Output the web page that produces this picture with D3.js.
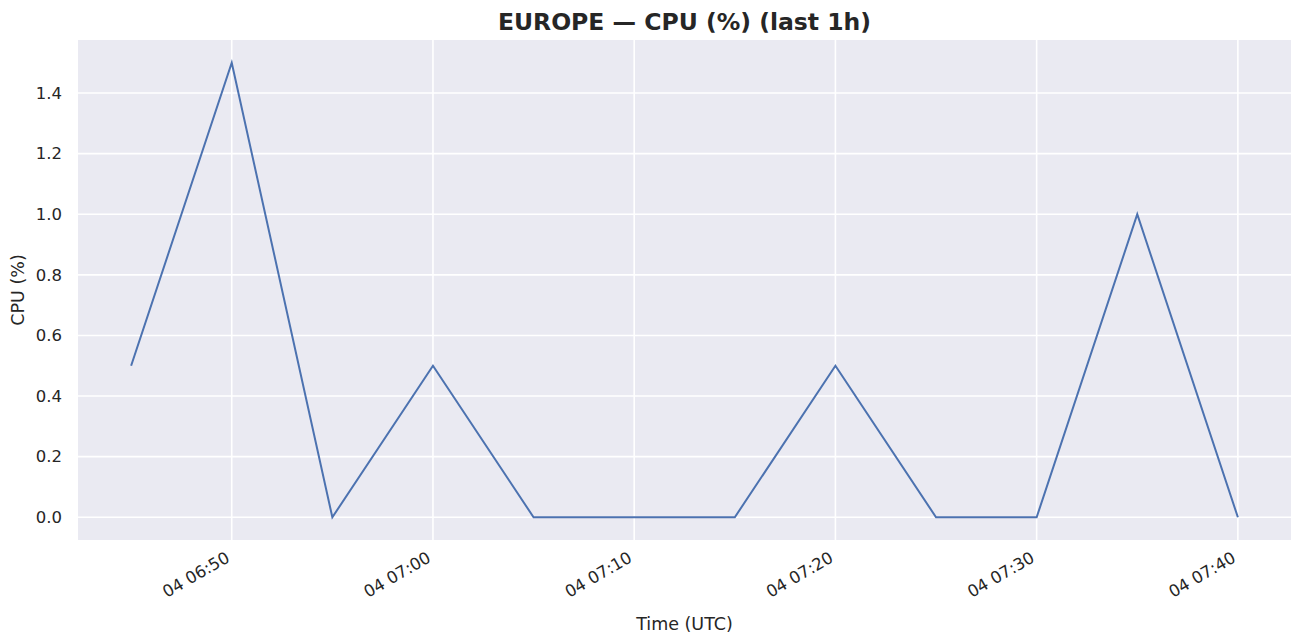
<!DOCTYPE html>
<html><head><meta charset="utf-8">
<script src="https://cdn.jsdelivr.net/npm/d3@7"></script>
<style>body{margin:0;background:#fff;font-family:"DejaVu Sans",sans-serif}</style>
</head><body><div id="chart"></div>
<script>
// data (UTC, 5 min steps)
const times = ["06:45","06:50","06:55","07:00","07:05","07:10","07:15","07:20","07:25","07:30","07:35","07:40"];
const cpu = [0.5, 1.5, 0, 0.5, 0, 0, 0, 0.5, 0, 0, 1.0, 0];
const yTicks = [0, 0.2, 0.4, 0.6, 0.8, 1.0, 1.2, 1.4];
const xTicks = ["06:50","07:00","07:10","07:20","07:30","07:40"];

const W = 1303, H = 644;
const m = {left: 78, right: 12, top: 40, bottom: 104};
const parse = t => new Date("2024-01-04T" + t + ":00Z");
const pts = times.map((t, i) => ({t: parse(t), v: cpu[i]}));

const svg = d3.select("#chart").append("svg").attr("width", W).attr("height", H);

const t0 = parse("06:45"), t1 = parse("07:40"), pad = (t1 - t0) * 0.048;
const x = d3.scaleUtc().domain([new Date(+t0 - pad), new Date(+t1 + pad)]).range([m.left, W - m.right]);
const y = d3.scaleLinear().domain([-0.075, 1.575]).range([H - m.bottom, m.top]);

svg.append("rect").attr("x", m.left).attr("y", m.top)
  .attr("width", W - m.left - m.right).attr("height", H - m.top - m.bottom).attr("fill", "#eaeaf2");

// grid
svg.append("g").selectAll("line").data(yTicks).enter().append("line")
  .attr("x1", m.left).attr("x2", W - m.right)
  .attr("y1", d => y(d)).attr("y2", d => y(d))
  .attr("stroke", "#fff").attr("stroke-width", 1.6);
svg.append("g").selectAll("line").data(xTicks).enter().append("line")
  .attr("x1", d => x(parse(d))).attr("x2", d => x(parse(d)))
  .attr("y1", m.top).attr("y2", H - m.bottom)
  .attr("stroke", "#fff").attr("stroke-width", 1.6);

// y labels
svg.append("g").selectAll("text").data(yTicks).enter().append("text")
  .attr("x", m.left - 16).attr("y", d => y(d)).attr("dy", "0.35em")
  .attr("text-anchor", "end").attr("font-size", 16.5).attr("fill", "#262626")
  .text(d => d.toFixed(1));

// x labels, rotated
const fmt = d3.utcFormat("%d %H:%M");
svg.append("g").selectAll("text").data(xTicks).enter().append("text")
  .attr("transform", d => `translate(${x(parse(d)) - 1},${H - m.bottom + 21}) rotate(-30)`)
  .attr("text-anchor", "end").attr("font-size", 16.5).attr("fill", "#262626")
  .text(d => fmt(parse(d)));

// line
svg.append("path").datum(pts)
  .attr("d", d3.line().x(d => x(d.t)).y(d => y(d.v)))
  .attr("fill", "none").attr("stroke", "#4c72b0").attr("stroke-width", 2);

// titles
svg.append("text").attr("x", (m.left + W - m.right) / 2).attr("y", 30)
  .attr("text-anchor", "middle").attr("font-size", 23.5).attr("font-weight", "bold").attr("fill", "#262626")
  .text("EUROPE — CPU (%) (last 1h)");
svg.append("text").attr("x", (m.left + W - m.right) / 2).attr("y", 630)
  .attr("text-anchor", "middle").attr("font-size", 17.5).attr("fill", "#262626")
  .text("Time (UTC)");
svg.append("text").attr("transform", `translate(24,${(m.top + H - m.bottom) / 2}) rotate(-90)`)
  .attr("text-anchor", "middle").attr("font-size", 17.5).attr("fill", "#262626")
  .text("CPU (%)");
</script></body></html>
